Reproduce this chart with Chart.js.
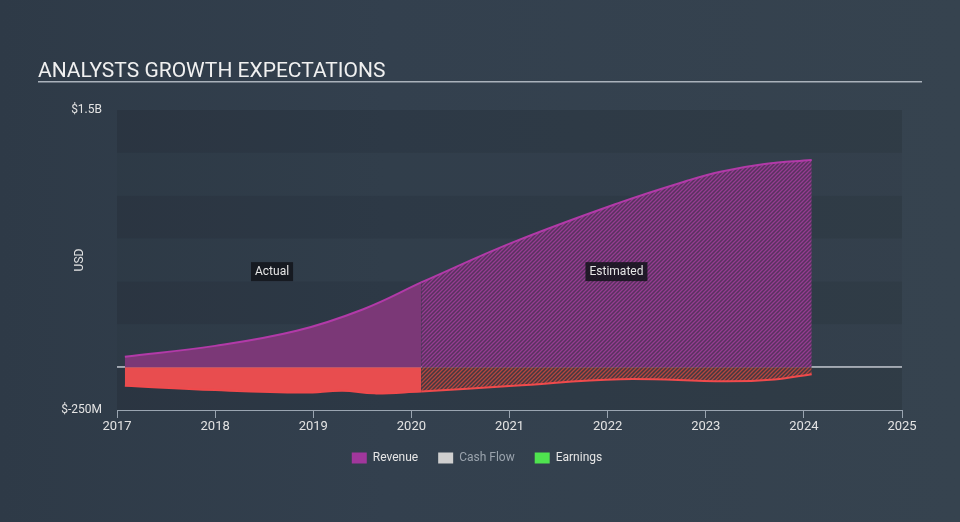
<!DOCTYPE html>
<html>
<head>
<meta charset="utf-8">
<script src="https://cdn.jsdelivr.net/npm/chart.js@4/dist/chart.umd.min.js"></script>
<style>
  html, body { margin: 0; padding: 0; }
  body {
    width: 960px; height: 522px; overflow: hidden;
    background: linear-gradient(90deg, #2e3a47 0%, #33404e 40%, #36434f 100%);
  }
  #growthChart { display: block; }
</style>
</head>
<body>
<canvas id="growthChart" width="960" height="522"></canvas>
<script>
// values in USD, x as decimal years
const revenueActualYears = [2017.08, 2018.0, 2018.83, 2019.51, 2020.1];
const revenueActual = [60e6, 124e6, 212e6, 338e6, 494e6];
const earningsActualYears = [2017.08, 2018.0, 2018.9, 2019.3, 2019.62, 2020.1];
const earningsActual = [-109e6, -134e6, -148e6, -138e6, -153e6, -142e6];

const revenueEstYears = [2020.1, 2021.04, 2022.13, 2022.81, 2023.15, 2023.6, 2024.08];
const revenueEstimated = [494e6, 729e6, 961e6, 1087e6, 1140e6, 1185e6, 1208e6];
const earningsEstYears = [2020.1, 2021.04, 2022.13, 2023.2, 2023.7, 2024.08];
const earningsEstimated = [-142e6, -109e6, -70e6, -83e6, -72e6, -41e6];

const yearTicks = [2017, 2018, 2019, 2020, 2021, 2022, 2023, 2024, 2025];
const yTickLabels = { "1500000000": "$1.5B", "-250000000": "$-250M" };
const legendNames = ["Revenue", "Cash Flow", "Earnings"];
const legendColors = ["#a1379c", "#cfcfcf", "#4fe34f"];
const legendTextColors = ["#e6e6e6", "#9aa3ad", "#e6e6e6"];

const periodLabels = [
    { text: "Actual", x: 2018.58, y: 560e6 },
    { text: "Estimated", x: 2022.09, y: 560e6 }
];

function pts(xs, ys) {
    return xs.map((x, i) => ({ x: x, y: ys[i] }));
}

function hatch(bg, fg) {
    let c = document.createElement("canvas");
    c.width = 4; c.height = 4;
    let g = c.getContext("2d");
    g.fillStyle = bg;
    g.fillRect(0, 0, 4, 4);
    g.strokeStyle = fg;
    g.lineWidth = 1.3;
    g.beginPath();
    g.moveTo(0, 4); g.lineTo(4, 0);
    g.moveTo(-2, 2); g.lineTo(2, -2);
    g.moveTo(2, 6); g.lineTo(6, 2);
    g.stroke();
    return g.createPattern(c, "repeat");
}

const bandsPlugin = {
    id: "bands",
    afterLayout(chart) {
        // nudge the legend a little to the right, like the original
        if (chart.legend) {
            chart.legend.left += 6;
            chart.legend.right += 6;
        }
    },
    beforeDatasetsDraw(chart) {
        let ctx = chart.ctx, a = chart.chartArea, y = chart.scales.y;
        ctx.save();
        ctx.fillStyle = "rgba(0,0,0,0.03)";
        ctx.fillRect(a.left, a.top, a.right - a.left, a.bottom - a.top);
        ctx.fillStyle = "rgba(0,0,0,0.075)";
        let ticks = y.ticks;
        for (let i = ticks.length - 1; i > 0; i -= 2) {
            let t = y.getPixelForValue(ticks[i].value);
            let b = y.getPixelForValue(ticks[i - 1].value);
            ctx.fillRect(a.left, t, a.right - a.left, b - t);
        }
        ctx.restore();
    }
};

const decorPlugin = {
    id: "decor",
    afterDraw(chart) {
        let ctx = chart.ctx;
        ctx.save();
        // title
        ctx.fillStyle = "#f0f0f0";
        ctx.font = "21px Roboto";
        ctx.textBaseline = "alphabetic";
        ctx.fillText("ANALYSTS GROWTH EXPECTATIONS", 38, 77);
        ctx.fillStyle = "#aab2bb";
        ctx.fillRect(38, 81, 884, 1.5);
        // period labels
        ctx.font = "12px Roboto";
        ctx.textBaseline = "middle";
        ctx.textAlign = "center";
        periodLabels.forEach(p => {
            let px = chart.scales.x.getPixelForValue(p.x);
            let py = chart.scales.y.getPixelForValue(p.y);
            let w = ctx.measureText(p.text).width + 8;
            ctx.fillStyle = "rgba(18,20,26,0.85)";
            ctx.fillRect(px - w / 2, py - 9, w, 19);
            ctx.fillStyle = "#e6e6e6";
            ctx.fillText(p.text, px, py + 0.5);
        });
        ctx.restore();
    }
};

let ctx = document.getElementById("growthChart").getContext("2d");

new Chart(ctx, {
    type: "line",
    data: {
        datasets: [
            {
                label: "Revenue",
                data: pts(revenueActualYears, revenueActual),
                borderColor: "#b23aa8",
                backgroundColor: "#7b3877",
                borderWidth: 2,
                fill: "origin"
            },
            {
                label: "Revenue est",
                data: pts(revenueEstYears, revenueEstimated),
                borderColor: "#b23aa8",
                backgroundColor: hatch("#58325f", "#953c91"),
                borderWidth: 2,
                fill: "origin"
            },
            {
                label: "Earnings",
                data: pts(earningsActualYears, earningsActual),
                borderColor: "#f04a4c",
                backgroundColor: "#e84d4f",
                borderWidth: 2,
                fill: "origin"
            },
            {
                label: "Earnings est",
                data: pts(earningsEstYears, earningsEstimated),
                borderColor: "#f04a4c",
                backgroundColor: hatch("#443840", "#b4463f"),
                borderWidth: 2,
                fill: "origin"
            }
        ]
    },
    options: {
        responsive: false,
        animation: false,
        devicePixelRatio: 1,
        elements: { point: { radius: 0 }, line: { tension: 0.4 } },
        layout: { padding: { left: 40, right: 58, top: 110, bottom: 48 } },
        scales: {
            x: {
                type: "linear",
                min: 2017,
                max: 2025,
                afterBuildTicks: s => { s.ticks = yearTicks.map(v => ({ value: v })); },
                afterFit: s => { s.height = 22; },
                ticks: {
                    color: "#e3e3e3",
                    font: { family: "Roboto", size: 13 },
                    padding: 1,
                    maxRotation: 0,
                    callback: v => String(v)
                },
                grid: { drawOnChartArea: false, drawTicks: true, tickLength: 8, color: "#9aa5b1", lineWidth: 1 },
                border: { display: true, color: "#9aa5b1", width: 1 }
            },
            y: {
                min: -250e6,
                max: 1500e6,
                z: 1,
                afterFit: s => { s.width = 77; },
                ticks: {
                    stepSize: 250e6,
                    color: "#e3e3e3",
                    font: { family: "Roboto", size: 12 },
                    padding: 15,
                    callback: v => yTickLabels[String(v)] || ""
                },
                grid: {
                    drawTicks: false,
                    color: c => c.tick && c.tick.value === 0 ? "rgba(190,196,204,0.85)" : "rgba(0,0,0,0)",
                    lineWidth: 2
                },
                border: { display: false },
                title: {
                    display: true, text: "USD", color: "#e3e3e3",
                    font: { family: "Roboto", size: 12 },
                    padding: { top: 33, bottom: 4 }
                }
            }
        },
        plugins: {
            tooltip: { enabled: false },
            legend: {
                position: "bottom",
                onClick: null,
                labels: {
                    boxWidth: 15,
                    boxHeight: 11,
                    padding: 20,
                    font: { family: "Roboto", size: 12 },
                    generateLabels: () => legendNames.map((n, i) => ({
                        text: n,
                        fillStyle: legendColors[i],
                        strokeStyle: legendColors[i],
                        lineWidth: 0,
                        fontColor: legendTextColors[i],
                        hidden: false,
                        index: i
                    }))
                }
            }
        }
    },
    plugins: [bandsPlugin, decorPlugin]
});
</script>
</body>
</html>
